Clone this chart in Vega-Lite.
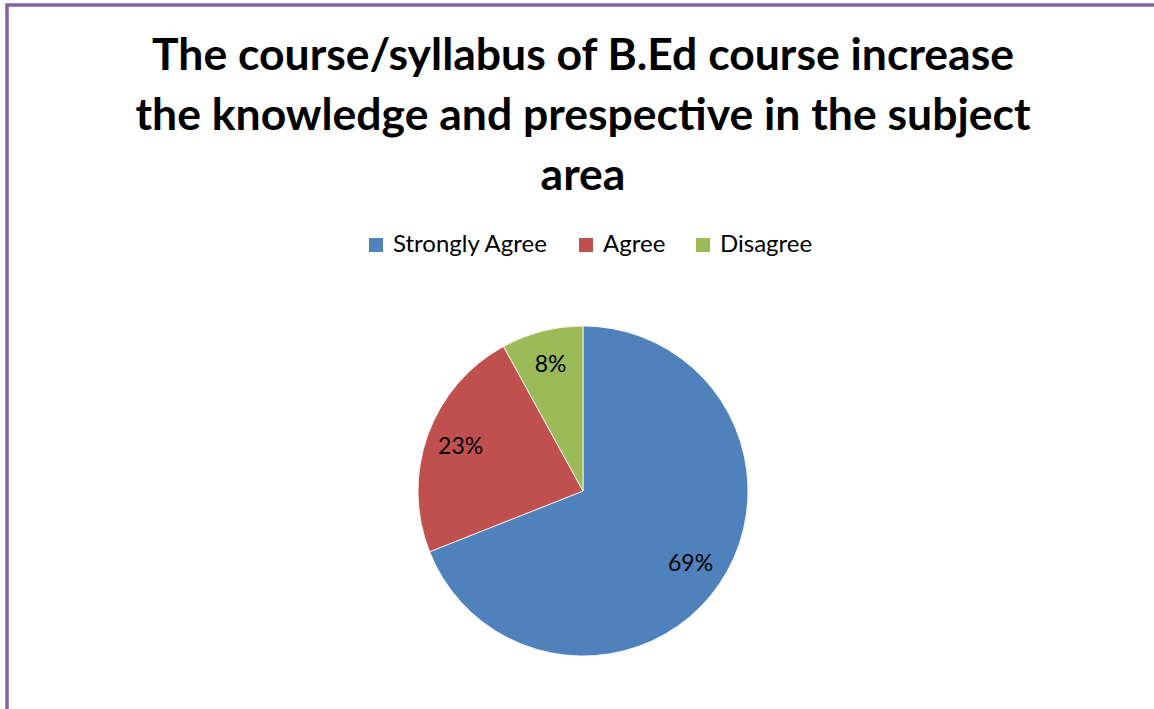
{
  "$schema": "https://vega.github.io/schema/vega-lite/v6.json",
  "autosize": "none",
  "width": 1152,
  "height": 972,
  "padding": {"left": 7, "top": 5, "right": -5, "bottom": -268},
  "background": "white",
  "view": {"stroke": "#8064A2", "strokeWidth": 3.5, "fill": "white"},
  "config": {
    "font": "Lato"
  },
  "title": {
    "text": ["The course/syllabus of B.Ed course increase", "the knowledge and prespective in the subject", "area"],
    "orient": "top",
    "anchor": "middle",
    "frame": "group",
    "baseline": "alphabetic",
    "offset": -229,
    "font": "Lato",
    "fontSize": 44.5,
    "fontWeight": "bold",
    "lineHeight": 60,
    "color": "#000000"
  },
  "data": {
    "values": [
      {"response": "Strongly Agree", "percent": 69, "label": "69%", "ord": 1},
      {"response": "Agree", "percent": 23, "label": "23%", "ord": 2},
      {"response": "Disagree", "percent": 8, "label": "8%", "ord": 3}
    ]
  },
  "encoding": {
    "theta": {"field": "percent", "type": "quantitative", "stack": true},
    "order": {"field": "ord", "type": "quantitative"}
  },
  "layer": [
    {
      "mark": {"type": "arc", "outerRadius": 165, "stroke": "white", "strokeWidth": 0.8},
      "encoding": {
        "color": {
          "field": "response",
          "type": "nominal",
          "sort": ["Strongly Agree", "Agree", "Disagree"],
          "scale": {"domain": ["Strongly Agree", "Agree", "Disagree"], "range": ["#4F81BD", "#C0504D", "#9BBB59"]},
          "legend": {
            "title": null,
            "orient": "none",
            "legendX": 357,
            "legendY": 228,
            "direction": "horizontal",
            "symbolType": "square",
            "symbolSize": 196,
            "symbolStrokeWidth": 0,
            "labelFont": "Lato",
            "labelFontSize": 24,
            "labelColor": "#000000",
            "labelOffset": 5,
            "columnPadding": 25
          }
        }
      }
    },
    {
      "mark": {"type": "text", "radius": 130, "font": "Lato", "fontSize": 23, "color": "#000000"},
      "encoding": {
        "text": {"field": "label", "type": "nominal"}
      }
    }
  ]
}
